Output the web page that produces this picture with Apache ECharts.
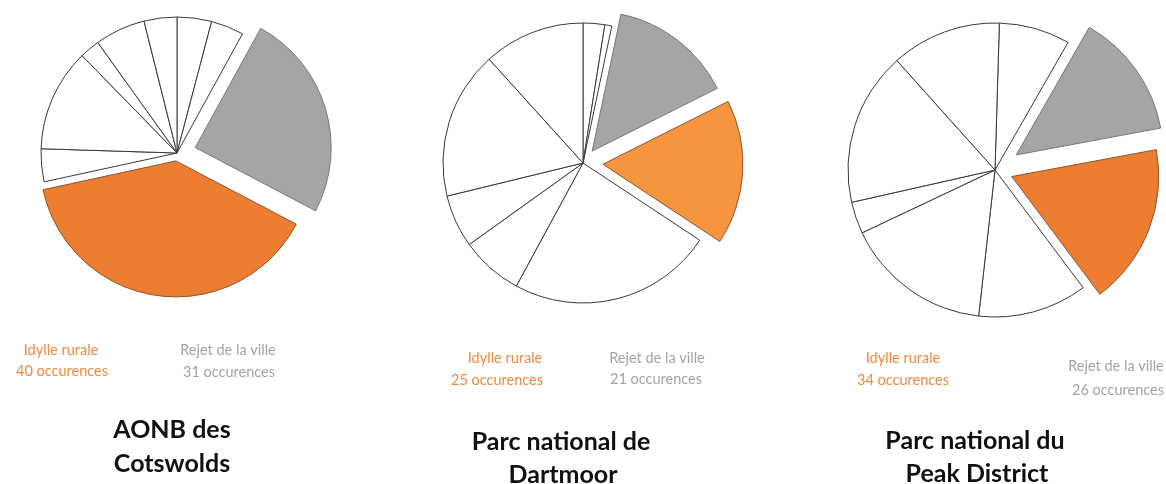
<!DOCTYPE html>
<html>
<head>
<meta charset="utf-8">
<script src="https://cdn.jsdelivr.net/npm/echarts@6/dist/echarts.min.js"></script>
<style>
   html, body { margin: 0; padding: 0; background: #fff; }
   #chart { width: 1166px; height: 484px; }
</style>
</head>
<body>
<div id="chart"></div>
<script>
// share of each slice (%), clockwise from 12 o'clock
const cotswolds = [4.1, 3.9, 24.7, 38.9, 3.9, 12.2, 2.4, 6.0, 3.9];
const dartmoor = [2.5, 0.8, 14.3, 16.7, 23.6, 7.2, 6.1, 17.1, 11.7];
const peakDistrict = [7.8, 13.8, 17.7, 12.0, 16.2, 3.5, 16.9, 12.1];
// slice index of "Rejet de la ville" (grey) and "Idylle rurale" (orange)
const rejetIndex = [2, 2, 1];
const idylleIndex = [3, 3, 2];
const idylleCounts = [40, 25, 34];
const rejetCounts = [31, 21, 26];
const parkNames = [
   ['AONB des', 'Cotswolds'],
   ['Parc national de', 'Dartmoor'],
   ['Parc national du', 'Peak District']
];

// layout of each pie
const pies = [
   { values: cotswolds, cx: 177, cy: 153, r: 136, start: 90, greyOff: 19, orangeOff: 8, orange: '#ed7d31',
     idy: [61, 350, 62, 371], rej: [228, 350, 229, 372], title: [172, 430, 172, 464] },
   { values: dartmoor, cx: 583, cy: 163, r: 140, start: 90, greyOff: 15, orangeOff: 20, orange: '#f7953f',
     idy: [505, 358, 497, 380], rej: [657, 358, 656, 379], title: [561, 442, 563, 475] },
   { values: peakDistrict, cx: 995, cy: 170, r: 147, start: 88.3, greyOff: 26, orangeOff: 18, orange: '#ed7d31',
     idy: [903, 358, 903, 380], rej: [1116, 366, 1118, 390], title: [975, 441, 977, 474] }
];

const hidden = { color: 'rgba(0,0,0,0)', borderWidth: 0 };

function pieSeries(p, visible, style, offset) {
   return {
      type: 'pie',
      center: [p.cx, p.cy],
      radius: p.r,
      startAngle: p.start,
      clockwise: true,
      silent: true,
      selectedMode: 'multiple',
      selectedOffset: offset,
      label: { show: false },
      labelLine: { show: false },
      emphasis: { disabled: true },
      data: p.values.map((v, i) => ({
         value: v,
         name: 's' + i,
         selected: offset > 0 && visible(i),
         itemStyle: visible(i) ? style : hidden
      }))
   };
}

const series = [];
const graphics = [];
pies.forEach((p, k) => {
   const gi = rejetIndex[k], oi = idylleIndex[k];
   series.push(pieSeries(p, i => i !== gi && i !== oi,
      { color: '#ffffff', borderColor: '#3a3a3a', borderWidth: 1 }, 0));
   series.push(pieSeries(p, i => i === gi,
      { color: '#a5a5a5', borderColor: '#7a7a7a', borderWidth: 1 }, p.greyOff));
   series.push(pieSeries(p, i => i === oi,
      { color: p.orange, borderColor: '#8a5530', borderWidth: 1 }, p.orangeOff));

   const txt = (x, y, text, fill, size, weight) => graphics.push({
      type: 'text', x: x, y: y, silent: true,
      style: {
         text: text, fill: fill, align: 'center', verticalAlign: 'middle',
         fontFamily: 'Lato', fontSize: size, fontWeight: weight
      }
   });
   txt(p.idy[0], p.idy[1], 'Idylle rurale', '#ee8a40', 14.5, 'normal');
   txt(p.idy[2], p.idy[3], idylleCounts[k] + ' occurences', '#ee8a40', 14.5, 'normal');
   txt(p.rej[0], p.rej[1], 'Rejet de la ville', '#a3a3a3', 14.5, 'normal');
   txt(p.rej[2], p.rej[3], rejetCounts[k] + ' occurences', '#a3a3a3', 14.5, 'normal');
   txt(p.title[0], p.title[1], parkNames[k][0], '#111111', 25, 'bold');
   txt(p.title[2], p.title[3], parkNames[k][1], '#111111', 25, 'bold');
});

const chart = echarts.init(document.getElementById('chart'));
chart.setOption({
   backgroundColor: '#ffffff',
   animation: false,
   series: series,
   graphic: graphics
});
</script>
</body>
</html>
